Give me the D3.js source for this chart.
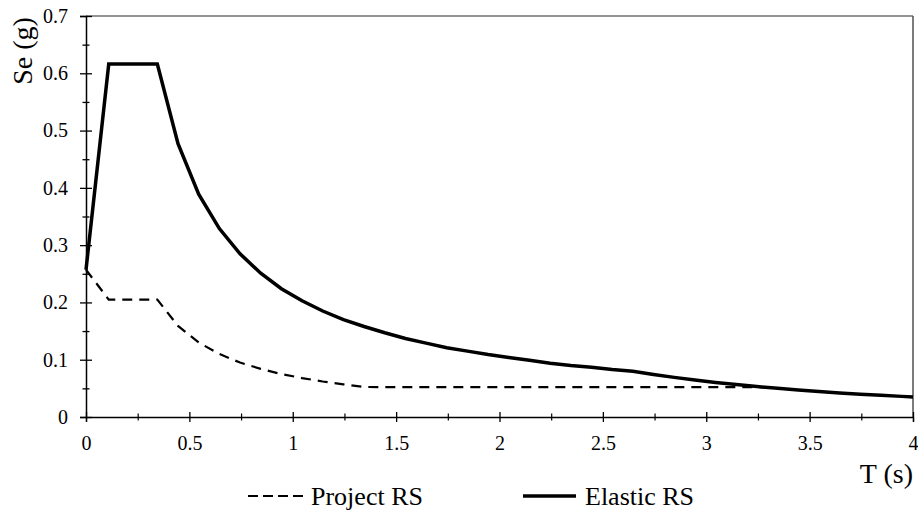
<!DOCTYPE html>
<html>
<head>
<meta charset="utf-8">
<script src="https://cdn.jsdelivr.net/npm/d3@7"></script>
<style>
  html, body { margin: 0; padding: 0; background: #fff; }
  svg { display: block; }
  svg text { font-family: "Liberation Serif", "Times New Roman", Tinos, Times, "DejaVu Serif", serif !important; fill: #000; }
</style>
</head>
<body>
<svg id="chart" width="918" height="512"></svg>
<script>
// ---- data ----
const elasticT  = [0, 0.11, 0.345, 0.445, 0.545, 0.645, 0.745, 0.845, 0.945, 1.045, 1.145, 1.245, 1.345, 1.445, 1.545, 1.645, 1.745, 1.845, 1.945, 2.045, 2.145, 2.245, 2.345, 2.445, 2.545, 2.645, 2.745, 2.845, 2.945, 3.045, 3.145, 3.245, 3.345, 3.445, 3.545, 3.645, 3.745, 3.845, 3.945, 4.0];
const elasticSe = [0.257, 0.616, 0.616, 0.477, 0.389, 0.329, 0.285, 0.251, 0.224, 0.203, 0.185, 0.170, 0.158, 0.147, 0.137, 0.129, 0.121, 0.115, 0.109, 0.104, 0.099, 0.094, 0.090, 0.087, 0.083, 0.080, 0.0743, 0.0692, 0.0645, 0.0604, 0.0566, 0.0532, 0.0500, 0.0472, 0.0445, 0.0421, 0.0399, 0.0379, 0.0360, 0.0350];
const projectT  = [0, 0.11, 0.345, 0.445, 0.545, 0.645, 0.745, 0.845, 0.945, 1.045, 1.145, 1.245, 1.345, 1.445, 3.28];
const projectSe = [0.257, 0.205, 0.205, 0.159, 0.130, 0.110, 0.095, 0.084, 0.075, 0.068, 0.062, 0.057, 0.0525, 0.052, 0.052];
const seriesNames = ["Project RS", "Elastic RS"];
const xTicks = [0, 0.5, 1, 1.5, 2, 2.5, 3, 3.5, 4];
const xTickLabels = ["0", "0.5", "1", "1.5", "2", "2.5", "3", "3.5", "4"];
const xMinorTicks = [0.25, 0.75, 1.25, 1.75, 2.25, 2.75, 3.25, 3.75];
const yTicks = [0, 0.1, 0.2, 0.3, 0.4, 0.5, 0.6, 0.7];
const yTickLabels = ["0", "0.1", "0.2", "0.3", "0.4", "0.5", "0.6", "0.7"];
const yMinorTicks = [0.05, 0.15, 0.25, 0.35, 0.45, 0.55, 0.65];
const xTitle = "T (s)";
const yTitle = "Se (g)";

// ---- layout ----
const svg = d3.select("#chart");
const x = d3.scaleLinear().domain([0, 4]).range([86, 913]);
const y = d3.scaleLinear().domain([0, 0.7]).range([417, 16]);

// frame: top and right borders
svg.append("line").attr("x1", x(0)).attr("x2", x(4)).attr("y1", y(0.7)).attr("y2", y(0.7))
  .attr("stroke", "#707070").attr("stroke-width", 1.5);
svg.append("line").attr("x1", x(4)).attr("x2", x(4)).attr("y1", y(0.7)).attr("y2", y(0))
  .attr("stroke", "#505050").attr("stroke-width", 1.5);

// y axis
const yAxis = svg.append("g").attr("transform", `translate(${x(0)},0)`)
  .call(d3.axisLeft(y).tickValues(yTicks).tickFormat((d, i) => yTickLabels[i]).tickSize(6).tickPadding(12));
yAxis.attr("font-family", null).attr("font-size", null);
yAxis.select(".domain").attr("stroke", "#000").attr("stroke-width", 1.5);
yAxis.selectAll(".tick line").attr("x1", 6).attr("x2", -6).attr("stroke", "#000").attr("stroke-width", 1.3);
yAxis.selectAll(".tick text").style("font-size", "20px");
const yMinor = svg.append("g").attr("transform", `translate(${x(0)},0)`)
  .call(d3.axisLeft(y).tickValues(yMinorTicks).tickFormat("").tickSize(3.5));
yMinor.select(".domain").remove();
yMinor.selectAll(".tick line").attr("x1", 3.5).attr("x2", -3.5).attr("stroke", "#000").attr("stroke-width", 1.3);

// x axis
const xAxis = svg.append("g").attr("transform", `translate(0,${y(0)})`)
  .call(d3.axisBottom(x).tickValues(xTicks).tickFormat((d, i) => xTickLabels[i]).tickSize(5).tickPadding(14));
xAxis.attr("font-family", null).attr("font-size", null);
xAxis.select(".domain").attr("stroke", "#000").attr("stroke-width", 1.3);
xAxis.selectAll(".tick line").attr("y1", -5).attr("y2", 5).attr("stroke", "#000").attr("stroke-width", 1.3);
xAxis.selectAll(".tick text").style("font-size", "20px");
const xMinor = svg.append("g").attr("transform", `translate(0,${y(0)})`)
  .call(d3.axisBottom(x).tickValues(xMinorTicks).tickFormat("").tickSize(3.5));
xMinor.select(".domain").remove();
xMinor.selectAll(".tick line").attr("y1", -3.5).attr("y2", 3.5).attr("stroke", "#000").attr("stroke-width", 1.2);

// lines
const line = d3.line().x(d => x(d[0])).y(d => y(d[1]));
const projectData = projectT.map((t, i) => [t, projectSe[i]]);
const elasticData = elasticT.map((t, i) => [t, elasticSe[i]]);
svg.append("path").datum(projectData).attr("d", line)
  .attr("fill", "none").attr("stroke", "#000").attr("stroke-width", 2.2)
  .attr("stroke-dasharray", "10,7");
svg.append("path").datum(elasticData).attr("d", line)
  .attr("fill", "none").attr("stroke", "#000").attr("stroke-width", 3.5)
  .attr("stroke-linejoin", "miter");

// axis titles
svg.append("text").attr("x", 913).attr("y", 483).attr("text-anchor", "end")
  .style("font-size", "28px").text(xTitle);
svg.append("text").attr("transform", "translate(32,51) rotate(-90)").attr("text-anchor", "middle")
  .style("font-size", "28px").text(yTitle);

// legend
const leg = svg.append("g");
leg.append("line").attr("x1", 248).attr("x2", 303).attr("y1", 496).attr("y2", 496)
  .attr("stroke", "#000").attr("stroke-width", 2.2).attr("stroke-dasharray", "10,5");
leg.append("text").attr("x", 311).attr("y", 505).style("font-size", "26px").text(seriesNames[0]);
leg.append("line").attr("x1", 523).attr("x2", 576).attr("y1", 496).attr("y2", 496)
  .attr("stroke", "#000").attr("stroke-width", 3.5);
leg.append("text").attr("x", 585).attr("y", 505).style("font-size", "26px").text(seriesNames[1]);
</script>
</body>
</html>
